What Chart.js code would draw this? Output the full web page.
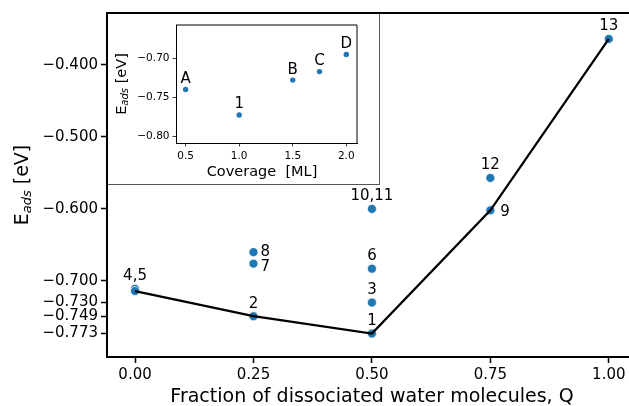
<!DOCTYPE html>
<html>
<head>
<meta charset="utf-8">
<script src="https://cdn.jsdelivr.net/npm/chart.js@4"></script>
<style>
  html, body { margin: 0; padding: 0; background: #fff; }
  #wrap { position: relative; width: 629px; height: 406px; overflow: hidden; }
  #mainChart { position: absolute; left: 0; top: 0; }
  #insetBox {
    position: absolute; left: 108px; top: 14px; width: 271px; height: 170px;
    background: #fff; border-right: 1.5px solid #555; border-bottom: 1.5px solid #555;
  }
  #insetChart { position: absolute; left: 0; top: 0; }
</style>
</head>
<body>
<div id="wrap">
  <canvas id="mainChart" width="629" height="406"></canvas>
  <div id="insetBox"><canvas id="insetChart" width="271" height="170"></canvas></div>
</div>
<script>
// main panel: configurations by fraction of dissociated water
const fractionQ = [0.5, 0.25, 0.5, 0, 0, 0.5, 0.25, 0.25, 0.75, 0.5, 0.5, 0.75, 1.0];
const energyE = [-0.773, -0.749, -0.730, -0.711, -0.714, -0.683, -0.676, -0.660, -0.602, -0.600, -0.600, -0.557, -0.364];
const pointNames = ["1", "2", "3", "4,5", "", "6", "7", "8", "9", "10,11", "", "12", "13"];

// lower envelope line
const hullQ = [0, 0.25, 0.5, 0.75, 1.0];
const hullE = [-0.714, -0.749, -0.773, -0.602, -0.364];

const mainYTicks = [-0.400, -0.500, -0.600, -0.700, -0.730, -0.749, -0.773];
const mainXTicks = [0, 0.25, 0.5, 0.75, 1.0];

// inset: energy vs coverage
const coverage = [0.5, 1.0, 1.5, 1.75, 2.0];
const coverageE = [-0.740, -0.773, -0.728, -0.717, -0.695];
const coverageNames = ["A", "1", "B", "C", "D"];
const insetXTicks = [0.5, 1.0, 1.5, 2.0];
const insetYTicks = [-0.70, -0.75, -0.80];

// label placement: null = centred above the point, [dx, dy] = to the right
const mainLabelShift = [null, null, null, null, null, null, [7, 3], [7, 0], [10, 2], null, null, null, null];

const FONT = "'DejaVu Sans', sans-serif";
const BLUE = "#1f77b4";

function fmt(v, digits) {
  return (v < 0 ? "\u2212" : "") + Math.abs(v).toFixed(digits);
}

function fixedTicks(values) {
  return scale => { scale.ticks = values.map(v => ({ value: v })); };
}

// draws "E_ads [eV]" with an italic subscript
function drawEads(ctx, cx, cy, size, rotated) {
  const sub = Math.round(size * 0.7);
  ctx.save();
  ctx.translate(cx, cy);
  if (rotated) ctx.rotate(-Math.PI / 2);
  ctx.fillStyle = "#000";
  ctx.textBaseline = "middle";
  ctx.textAlign = "left";
  ctx.font = `${size}px ${FONT}`;
  const wE = ctx.measureText("E").width;
  const wRest = ctx.measureText(" [eV]").width;
  ctx.font = `italic ${sub}px ${FONT}`;
  const wSub = ctx.measureText("ads").width;
  let x = -(wE + wSub + wRest) / 2;
  ctx.font = `${size}px ${FONT}`;
  ctx.fillText("E", x, 0);
  x += wE;
  ctx.font = `italic ${sub}px ${FONT}`;
  ctx.fillText("ads", x, size * 0.25);
  x += wSub;
  ctx.font = `${size}px ${FONT}`;
  ctx.fillText(" [eV]", x, 0);
  ctx.restore();
}

const frameAndLabels = {
  id: "frameAndLabels",
  afterDatasetsDraw(chart, args, opts) {
    const ctx = chart.ctx;
    const meta = chart.getDatasetMeta(opts.pointsDataset);
    ctx.save();
    ctx.fillStyle = "#000";
    ctx.font = `${opts.labelSize}px ${FONT}`;
    meta.data.forEach((pt, i) => {
      const text = opts.names[i];
      if (!text) return;
      const shift = opts.shifts ? opts.shifts[i] : null;
      if (shift) {
        ctx.textAlign = "left";
        ctx.textBaseline = "middle";
        ctx.fillText(text, pt.x + shift[0], pt.y + shift[1]);
      } else {
        ctx.textAlign = "center";
        ctx.textBaseline = "bottom";
        ctx.fillText(text, pt.x, pt.y - opts.gap);
      }
    });
    ctx.restore();
  },
  afterDraw(chart, args, opts) {
    const ctx = chart.ctx;
    const area = chart.chartArea;
    const right = opts.closeRight ? area.right : chart.width;
    ctx.save();
    ctx.strokeStyle = "#000";
    ctx.lineWidth = opts.frameWidth;
    ctx.beginPath();
    ctx.moveTo(area.left, area.top);
    ctx.lineTo(right, area.top);
    if (opts.closeRight) {
      ctx.lineTo(area.right, area.bottom);
    } else {
      ctx.moveTo(area.right - 1, area.bottom);
      ctx.lineTo(right, area.bottom);
    }
    ctx.stroke();
    ctx.restore();
    drawEads(ctx, opts.yTitleX, (area.top + area.bottom) / 2 + opts.yTitleShift, opts.titleSize, true);
    ctx.save();
    ctx.fillStyle = "#000";
    ctx.font = `${opts.titleSize}px ${FONT}`;
    ctx.textAlign = "center";
    ctx.textBaseline = "middle";
    ctx.fillText(opts.xTitle, opts.xTitleX, opts.xTitleY);
    ctx.restore();
  }
};

function axis(min, max, ticks, digits, size, tickLen, fitFn, borderWidth) {
  return {
    type: "linear",
    min: min,
    max: max,
    afterBuildTicks: fixedTicks(ticks),
    afterFit: fitFn,
    grid: { drawOnChartArea: false, drawTicks: true, tickLength: tickLen, tickColor: "#000", tickWidth: borderWidth * 0.75 },
    border: { display: true, color: "#000", width: borderWidth },
    ticks: {
      color: "#000",
      padding: 3,
      autoSkip: false,
      maxRotation: 0,
      font: { family: FONT, size: size },
      callback: v => fmt(v, digits)
    }
  };
}

new Chart(document.getElementById("mainChart"), {
  type: "scatter",
  data: {
    datasets: [
      {
        data: hullQ.map((q, i) => ({ x: q, y: hullE[i] })),
        showLine: true,
        borderColor: "#000",
        borderWidth: 2.3,
        pointRadius: 0,
        order: 0
      },
      {
        data: fractionQ.map((q, i) => ({ x: q, y: energyE[i] })),
        backgroundColor: BLUE,
        borderColor: "#fff",
        borderWidth: 0.7,
        pointRadius: 4.5,
        order: 1
      }
    ]
  },
  options: {
    responsive: false,
    devicePixelRatio: 1,
    animation: false,
    layout: { padding: { top: 13, right: 0, left: 0, bottom: 0 } },
    plugins: {
      legend: { display: false },
      tooltip: { enabled: false },
      frameAndLabels: {
        pointsDataset: 1,
        names: pointNames,
        shifts: mainLabelShift,
        labelSize: 15,
        gap: 5,
        frameWidth: 2,
        closeRight: false,
        titleSize: 19,
        yTitleX: 23,
        yTitleShift: 0,
        xTitle: "Fraction of dissociated water molecules, Q",
        xTitleX: 372,
        xTitleY: 397
      }
    },
    scales: {
      x: axis(-0.0592, 1.0317, mainXTicks, 2, 15, 6, s => { s.height = 49; }, 2),
      y: axis(-0.8056, -0.328, mainYTicks, 3, 15, 6, s => { s.width = 107; }, 2)
    }
  },
  plugins: [frameAndLabels]
});

new Chart(document.getElementById("insetChart"), {
  type: "scatter",
  data: {
    datasets: [
      {
        data: coverage.map((c, i) => ({ x: c, y: coverageE[i] })),
        backgroundColor: BLUE,
        borderWidth: 0,
        pointRadius: 2.7
      }
    ]
  },
  options: {
    responsive: false,
    devicePixelRatio: 1,
    animation: false,
    layout: { padding: { top: 11, right: 22, left: 0, bottom: 0 } },
    plugins: {
      legend: { display: false },
      tooltip: { enabled: false },
      frameAndLabels: {
        pointsDataset: 0,
        names: coverageNames,
        labelSize: 15,
        gap: 3,
        frameWidth: 1,
        closeRight: true,
        titleSize: 14.5,
        yTitleX: 14,
        yTitleShift: 0,
        xTitle: "Coverage  [ML]",
        xTitleX: 154,
        xTitleY: 158
      }
    },
    scales: {
      x: axis(0.41, 2.1, insetXTicks, 1, 10.5, 3.5, s => { s.height = 41; }, 1),
      y: axis(-0.809, -0.657, insetYTicks, 2, 10.5, 3.5, s => { s.width = 68; }, 1)
    }
  },
  plugins: [frameAndLabels]
});
</script>
</body>
</html>
